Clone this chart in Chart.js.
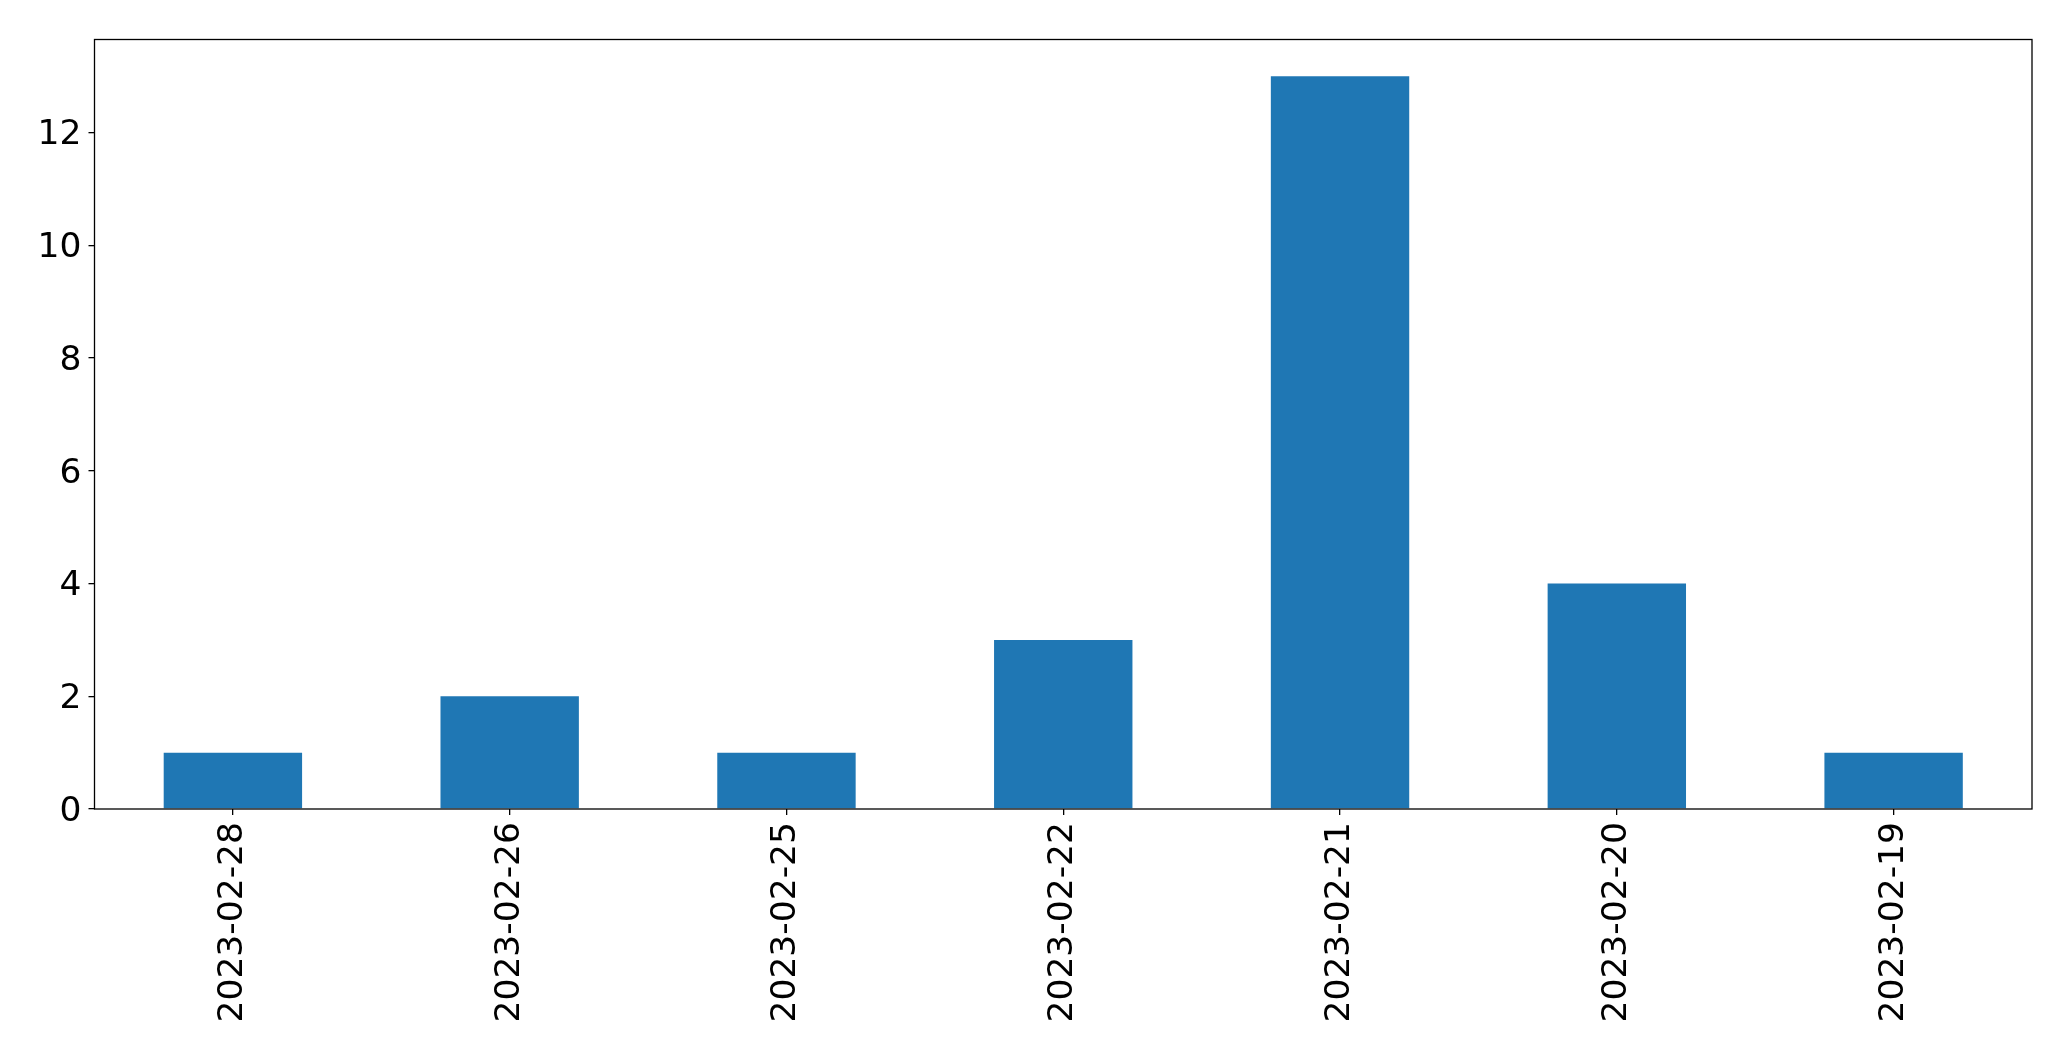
<!DOCTYPE html>
<html>
<head>
<meta charset="utf-8">
<script src="https://cdn.jsdelivr.net/npm/chart.js@4/dist/chart.umd.min.js"></script>
<style>
  html, body { margin: 0; padding: 0; background: #fff; }
  #wrap { width: 2071px; height: 1061px; position: relative; }
</style>
</head>
<body>
<div id="wrap"><canvas id="c" width="2071" height="1061"></canvas></div>
<script>
const categories = ['2023-02-28', '2023-02-26', '2023-02-25', '2023-02-22', '2023-02-21', '2023-02-20', '2023-02-19'];
const counts = [1, 2, 1, 3, 13, 4, 1];
const yTicks = [0, 2, 4, 6, 8, 10, 12];

const frame = {
  id: 'frame',
  afterDatasetsDraw(chart) {
    const { ctx, chartArea: a } = chart;
    ctx.save();
    ctx.strokeStyle = '#000';
    ctx.lineWidth = 1.3;
    ctx.strokeRect(a.left, a.top, a.right - a.left, a.bottom - a.top);
    ctx.restore();
  }
};

new Chart(document.getElementById('c'), {
  type: 'bar',
  data: {
    labels: categories,
    datasets: [{
      data: counts,
      backgroundColor: '#1f77b4',
      borderWidth: 0,
      barPercentage: 0.5,
      categoryPercentage: 1.0
    }]
  },
  options: {
    responsive: false,
    animation: false,
    devicePixelRatio: 1,
    layout: { padding: { left: 0, top: 39.5, right: 39, bottom: 0 } },
    plugins: { legend: { display: false }, tooltip: { enabled: false } },
    scales: {
      x: {
        grid: { display: true, drawOnChartArea: false, drawTicks: true, tickLength: 6, tickColor: '#000', offset: false, lineWidth: 1.3 },
        border: { display: false },
        ticks: {
          color: '#000',
          font: { family: 'DejaVu Sans', size: 34.5 },
          minRotation: 90, maxRotation: 90,
          padding: 7,
          autoSkip: false
        },
        afterFit(scale) { scale.height = 252; }
      },
      y: {
        min: 0,
        max: 13.65,
        grid: { display: true, drawOnChartArea: false, drawTicks: true, tickLength: 6, tickColor: '#000', lineWidth: 1.3 },
        border: { display: false },
        afterBuildTicks(scale) { scale.ticks = yTicks.map(v => ({ value: v })); },
        ticks: {
          color: '#000',
          font: { family: 'DejaVu Sans', size: 34.5 },
          padding: 7,
          labelOffset: 3,
          callback: v => String(v)
        },
        afterFit(scale) { scale.width = 94.5; }
      }
    }
  },
  plugins: [frame]
});
</script>
</body>
</html>
